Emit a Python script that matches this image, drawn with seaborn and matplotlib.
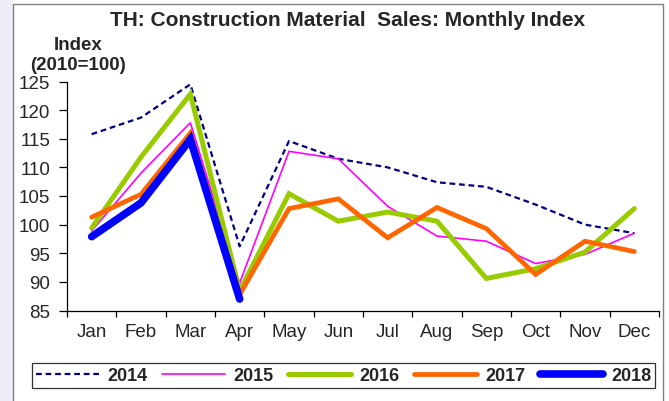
import numpy as np
import pandas as pd
import matplotlib
matplotlib.use("Agg")
import matplotlib.pyplot as plt
from matplotlib.lines import Line2D
from matplotlib.patches import Rectangle
import seaborn as sns

# Monthly index values (2010=100)
MONTHS = ["Jan", "Feb", "Mar", "Apr", "May", "Jun",
          "Jul", "Aug", "Sep", "Oct", "Nov", "Dec"]
Y2014 = [115.8, 118.7, 124.5, 96.2, 114.6, 111.5, 110.0, 107.4, 106.6, 103.5, 100.0, 98.5]
Y2015 = [98.9, 109.0, 117.8, 89.8, 112.8, 111.5, 103.2, 98.0, 97.1, 93.2, 94.8, 98.5]
Y2016 = [99.4, 111.8, 122.8, 88.4, 105.4, 100.6, 102.2, 100.6, 90.6, 92.3, 95.2, 102.8]
Y2017 = [101.3, 105.3, 116.0, 87.8, 102.8, 104.5, 97.7, 103.0, 99.3, 91.3, 97.1, 95.3]
Y2018 = [97.9, 103.8, 114.9, 87.0]

YEARS = ["2014", "2015", "2016", "2017", "2018"]
SERIES = [Y2014, Y2015, Y2016, Y2017, Y2018]

# line styling per year
STYLES = {
    "2014": dict(color="#000080", lw=1.6, ls=(0, (2.6, 1.7))),
    "2015": dict(color="#ff00ff", lw=1.2, ls="-"),
    "2016": dict(color="#99cc00", lw=3.6, ls="-"),
    "2017": dict(color="#ff6600", lw=3.4, ls="-"),
    "2018": dict(color="#0000ff", lw=5.5, ls="-"),
}

sns.set_style("white")
plt.rcParams["font.family"] = ["Liberation Sans", "DejaVu Sans"]

fig = plt.figure(figsize=(6.69, 4.02), dpi=100)
ax = fig.add_axes([67 / 669, 1 - 311.5 / 402, (659 - 67) / 669, (311.5 - 82.5) / 402])

rows = []
for year, vals in zip(YEARS, SERIES):
    for i, v in enumerate(vals):
        rows.append({"year": year, "month": i, "value": v})
df = pd.DataFrame(rows)

handles = []
for year in YEARS:
    st = STYLES[year]
    sub = df[df["year"] == year]
    sns.lineplot(data=sub, x="month", y="value", ax=ax, color=st["color"],
                 linewidth=st["lw"], linestyle=st["ls"],
                 solid_capstyle="round", solid_joinstyle="miter")
    handles.append(Line2D([], [], color=st["color"], lw=st["lw"], ls=st["ls"],
                          solid_capstyle="round", label=year))

ax.set_xlim(-0.5, 11.5)
ax.set_ylim(85, 125)
ax.set_yticks(np.arange(85, 126, 5))
ax.set_xticks(np.arange(-0.5, 12, 1))
ax.set_xticklabels([])
ax.set_xticks(np.arange(12), minor=True)
ax.set_xticklabels(MONTHS, minor=True)
ax.tick_params(axis="x", which="major", direction="out", length=4.5, width=0.9,
               color="black", bottom=True)
ax.tick_params(axis="x", which="minor", length=0, pad=9, labelsize=13.5)
ax.tick_params(axis="y", direction="out", length=6, width=0.9, color="black",
               left=True, pad=6, labelsize=13.5)
ax.set_xlabel("")
ax.set_ylabel("")
for side in ["top", "right"]:
    ax.spines[side].set_visible(False)
for side in ["left", "bottom"]:
    ax.spines[side].set_color("black")
    ax.spines[side].set_linewidth(0.9)

# titles
fig.text(348 / 669, 1 - 20 / 402, "TH: Construction Material  Sales: Monthly Index",
         ha="center", va="center", fontsize=15, fontweight="bold")
fig.text(78 / 669, 1 - 45 / 402, "Index", ha="center", va="center",
         fontsize=13.5, fontweight="bold")
fig.text(78 / 669, 1 - 65 / 402, "(2010=100)", ha="center", va="center",
         fontsize=13.5, fontweight="bold")

leg = fig.legend(handles=handles, loc="center", bbox_to_anchor=(343.5 / 669, 1 - 376.5 / 402),
                 ncol=5, frameon=True, fancybox=False, edgecolor="black",
                 prop={"weight": "bold", "size": 13}, handlelength=3.5,
                 handletextpad=0.45, columnspacing=0.8, borderpad=0.2)
leg.get_frame().set_linewidth(0.9)

# page decoration: side strip and frame
fig.add_artist(Rectangle((0, 0), 13 / 669, 1, transform=fig.transFigure,
                         facecolor="#eeeef8", edgecolor="none", zorder=-1))
fx0, fx1, fy = 13 / 669, 663 / 669, 1 - 4.5 / 402
fig.add_artist(Line2D([fx0, fx0, fx1, fx1], [0, fy, fy, 0], transform=fig.transFigure,
                      color="#808080", lw=1.0))

fig.savefig("out.png", dpi=100)
